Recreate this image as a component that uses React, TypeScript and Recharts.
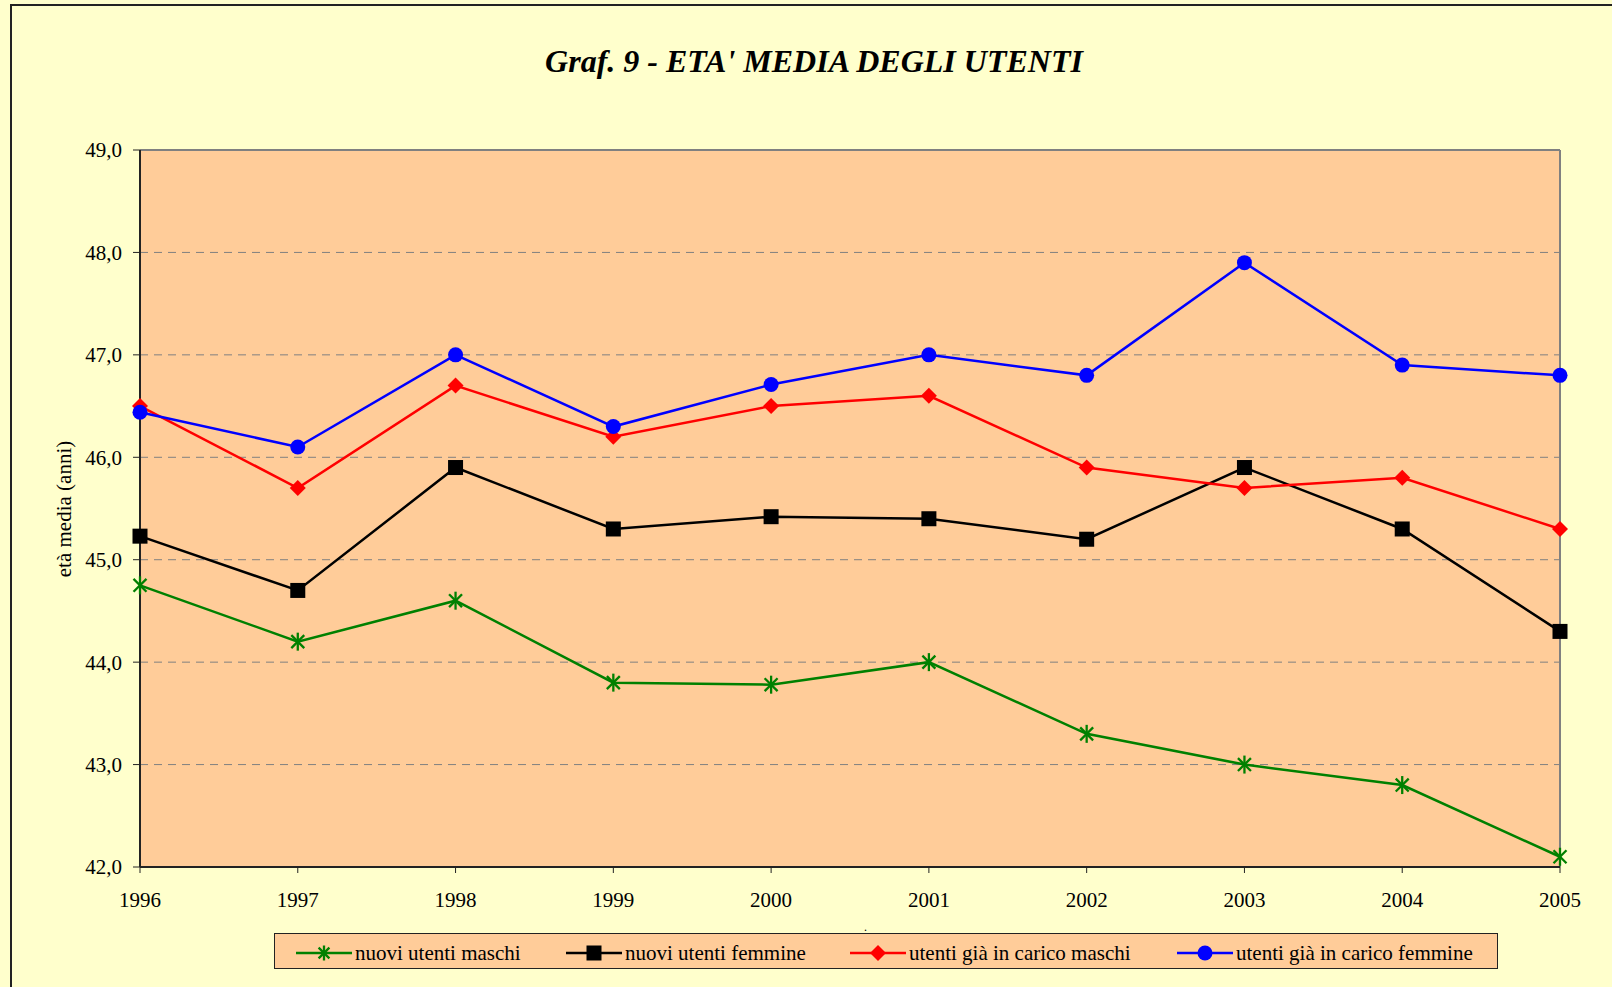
import React from "react";
import { LineChart, Line, XAxis, YAxis, CartesianGrid, ReferenceLine } from "recharts";

const years = [1996, 1997, 1998, 1999, 2000, 2001, 2002, 2003, 2004, 2005];
const nuoviMaschi = [44.75, 44.2, 44.6, 43.8, 43.78, 44.0, 43.3, 43.0, 42.8, 42.1];
const nuoviFemmine = [45.23, 44.7, 45.9, 45.3, 45.42, 45.4, 45.2, 45.9, 45.3, 44.3];
const caricoMaschi = [46.5, 45.7, 46.7, 46.2, 46.5, 46.6, 45.9, 45.7, 45.8, 45.3];
const caricoFemmine = [46.44, 46.1, 47.0, 46.3, 46.71, 47.0, 46.8, 47.9, 46.9, 46.8];
const yTicks = [42, 43, 44, 45, 46, 47, 48, 49];

const data = years.map((y, i) => ({
  year: y,
  nm: nuoviMaschi[i],
  nf: nuoviFemmine[i],
  cm: caricoMaschi[i],
  cf: caricoFemmine[i],
}));

const FONT = "'Liberation Serif', 'Times New Roman', serif";

const Star = ({ cx, cy, color = "#008000", r = 9 }: any) => {
  if (cx == null || cy == null) return null;
  const d = r * 0.72;
  return (
    <g stroke={color} strokeWidth={2.3} fill="none">
      <line x1={cx} y1={cy - r} x2={cx} y2={cy + r} />
      <line x1={cx - d} y1={cy - d} x2={cx + d} y2={cy + d} />
      <line x1={cx - d} y1={cy + d} x2={cx + d} y2={cy - d} />
    </g>
  );
};

const Square = ({ cx, cy, color = "#000" }: any) => {
  if (cx == null || cy == null) return null;
  return <rect x={cx - 7.5} y={cy - 7.5} width={15} height={15} fill={color} />;
};

const Diamond = ({ cx, cy, color = "#FF0000" }: any) => {
  if (cx == null || cy == null) return null;
  const r = 8;
  return <path d={`M${cx},${cy - r} L${cx + r},${cy} L${cx},${cy + r} L${cx - r},${cy} Z`} fill={color} />;
};

const Circle = ({ cx, cy, color = "#0000FF" }: any) => {
  if (cx == null || cy == null) return null;
  return <circle cx={cx} cy={cy} r={7.5} fill={color} />;
};

const legendItems = [
  { label: "nuovi utenti maschi", color: "#008000", marker: "star", x: 296 },
  { label: "nuovi utenti femmine", color: "#000000", marker: "square", x: 566 },
  { label: "utenti già in carico maschi", color: "#FF0000", marker: "diamond", x: 850 },
  { label: "utenti già in carico femmine", color: "#0000FF", marker: "circle", x: 1177 },
];

function LegendMarker({ marker, color }: { marker: string; color: string }) {
  const cx = 28;
  const cy = 10;
  return (
    <svg width={57} height={20} style={{ display: "block" }}>
      <line x1={0} y1={cy} x2={56} y2={cy} stroke={color} strokeWidth={2.5} />
      {marker === "star" && <Star cx={cx} cy={cy} color={color} r={7.5} />}
      {marker === "square" && <Square cx={cx} cy={cy} color={color} />}
      {marker === "diamond" && <Diamond cx={cx} cy={cy} color={color} />}
      {marker === "circle" && <Circle cx={cx} cy={cy} color={color} />}
    </svg>
  );
}

export default function App() {
  const fmt = (v: number) => v.toFixed(1).replace(".", ",");
  return (
    <div
      style={{
        position: "fixed",
        left: 0,
        top: 0,
        width: 1612,
        height: 987,
        overflow: "hidden",
        background: "#FFFFCC",
        fontFamily: FONT,
      }}
    >
      <div
        style={{
          position: "absolute",
          left: 10,
          top: 4,
          width: 1700,
          height: 1100,
          border: "2px solid #222",
        }}
      />
      <div
        style={{
          position: "absolute",
          left: 0,
          width: 1612,
          top: 43,
          textAlign: "center",
          fontSize: 32,
          fontWeight: "bold",
          fontStyle: "italic",
          color: "#000",
        }}
      >
        <span style={{ position: "relative", left: 8 }}>Graf. 9 - ETA' MEDIA DEGLI UTENTI</span>
      </div>
      <div
        style={{
          position: "absolute",
          left: 64,
          top: 509,
          transform: "translate(-50%, -50%) rotate(-90deg)",
          fontSize: 21,
          whiteSpace: "nowrap",
          color: "#000",
        }}
      >
        età media (anni)
      </div>
      <div style={{ position: "absolute", left: 0, top: 0 }}>
        <LineChart width={1612} height={987} data={data} margin={{ top: 150, right: 52, bottom: 0, left: 0 }}>
          <CartesianGrid
            vertical={false}
            fill="#FFCC99"
            stroke="#808080"
            strokeDasharray="8 6"
            strokeWidth={1}
          />
          <XAxis
            dataKey="year"
            height={120}
            tickSize={6}
            tickMargin={19}
            axisLine={{ stroke: "#222", strokeWidth: 2 }}
            tickLine={{ stroke: "#222" }}
            tick={{ fill: "#000", fontSize: 21, fontFamily: FONT }}
            interval={0}
          />
          <YAxis
            width={140}
            domain={[42, 49]}
            ticks={yTicks}
            tickFormatter={fmt}
            tickSize={7}
            tickMargin={11}
            axisLine={{ stroke: "#222", strokeWidth: 2 }}
            tickLine={{ stroke: "#222" }}
            tick={{ fill: "#000", fontSize: 21, fontFamily: FONT }}
            interval={0}
          />
          <ReferenceLine y={49} stroke="#808080" strokeWidth={2} />
          <ReferenceLine x={2005} stroke="#808080" strokeWidth={2} />
          <Line
            dataKey="nm"
            stroke="#008000"
            strokeWidth={2.5}
            dot={(p: any) => <Star key={p.index} cx={p.cx} cy={p.cy} />}
            isAnimationActive={false}
          />
          <Line
            dataKey="nf"
            stroke="#000000"
            strokeWidth={2.5}
            dot={(p: any) => <Square key={p.index} cx={p.cx} cy={p.cy} />}
            isAnimationActive={false}
          />
          <Line
            dataKey="cm"
            stroke="#FF0000"
            strokeWidth={2.5}
            dot={(p: any) => <Diamond key={p.index} cx={p.cx} cy={p.cy} />}
            isAnimationActive={false}
          />
          <Line
            dataKey="cf"
            stroke="#0000FF"
            strokeWidth={2.5}
            dot={(p: any) => <Circle key={p.index} cx={p.cx} cy={p.cy} />}
            isAnimationActive={false}
          />
        </LineChart>
      </div>
      <div style={{ position: "absolute", left: 864, top: 920, fontSize: 12, color: "#000" }}>.</div>
      <div
        style={{
          position: "absolute",
          left: 274,
          top: 933,
          width: 1224,
          height: 36,
          boxSizing: "border-box",
          border: "1.5px solid #222",
          background: "#FFCC99",
        }}
      />
      {legendItems.map((it) => (
        <div
          key={it.label}
          style={{
            position: "absolute",
            left: it.x,
            top: 942,
            display: "flex",
            alignItems: "center",
            fontSize: 21,
            color: "#000",
            whiteSpace: "nowrap",
            lineHeight: "22px",
          }}
        >
          <LegendMarker marker={it.marker} color={it.color} />
          <span style={{ marginLeft: 2 }}>{it.label}</span>
        </div>
      ))}
    </div>
  );
}
